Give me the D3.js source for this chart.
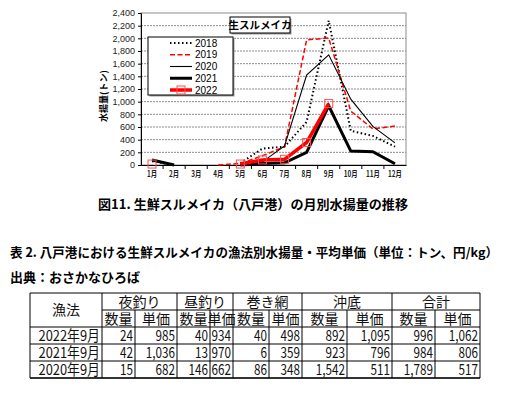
<!DOCTYPE HTML>
<html>
	<head>
        <meta charset='utf-8'>
        <title>生鮮スルメイカ 月別水揚量</title>
        <script src='https://d3js.org/d3.v7.min.js'></script>
        <style>
            body {
                margin: 0;
                background: #fff;
            }

            svg text {
                font-family: 'Liberation Sans', 'Noto Sans CJK JP', sans-serif;
            }

            .jp {
                font-family: 'Noto Sans CJK JP', sans-serif !important;
            }

            .grid line {
                stroke: #8c8c8c;
                stroke-width: 1px;
                stroke-dasharray: 2, 1;
            }

            .series {
                fill: none;
                stroke-linejoin: miter;
            }
        </style>
	</head>
	<body>
        <svg width='508' height='395' id='chart'></svg>
        <script>
            // monthly landings (t), null = no data
            const months = ['1月', '2月', '3月', '4月', '5月', '6月', '7月', '8月', '9月', '10月', '11月', '12月'];
            const y2018 = [60, 0, null, null, 30, 260, 290, 680, 2280, 540, 460, 290];
            const y2019 = [null, null, null, 0, 25, 145, 290, 1975, 2005, 850, 570, 615];
            const y2020 = [null, null, null, null, 0, 50, 300, 1420, 1740, 1040, 610, 350];
            const y2021 = [79, 0, null, null, 0, 25, 35, 200, 935, 220, 210, 20];
            const y2022 = [15, null, null, null, 15, 80, 90, 355, 970, null, null, null];
            const seriesNames = ['2018', '2019', '2020', '2021', '2022'];
            const yTicks = d3.range(0, 2401, 200);

            // table 2
            const methods = ['夜釣り', '昼釣り', '巻き網', '沖底', '合計'];
            const rowLabels = ['2022年9月', '2021年9月', '2020年9月'];
            const nightQty = [24, 42, 15];
            const nightPrice = [985, 1036, 682];
            const dayQty = [40, 13, 146];
            const dayPrice = [934, 970, 662];
            const seineQty = [40, 6, 86];
            const seinePrice = [498, 359, 348];
            const trawlQty = [892, 923, 1542];
            const trawlPrice = [1095, 796, 511];
            const totalQty = [996, 984, 1789];
            const totalPrice = [1062, 806, 517];

            var svg = d3.select('svg#chart');

            function boxWithShadow(g, x, y, w, h) {
                g.append('rect')
                    .attr('x', x + 1.5).attr('y', y + 1.5)
                    .attr('width', w).attr('height', h)
                    .attr('fill', '#999');
                g.append('rect')
                    .attr('x', x).attr('y', y)
                    .attr('width', w).attr('height', h)
                    .attr('fill', '#fff')
                    .attr('stroke', '#000');
            }

            function renderLineChart() {
                var plot = {left: 141, right: 406, top: 13, bottom: 165};

                var x = d3.scaleBand().domain(months).range([plot.left, plot.right]);
                var y = d3.scaleLinear().domain([0, 2400]).range([plot.bottom, plot.top]);

                var g = svg.append('g');

                g.append('g')
                    .attr('class', 'grid')
                    .selectAll('line')
                    .data(yTicks.filter(function(d) { return d > 0 && d < 2400; }))
                    .enter().append('line')
                    .attr('x1', plot.left)
                    .attr('x2', plot.right)
                    .attr('y1', function(d) { return y(d); })
                    .attr('y2', function(d) { return y(d); });

                g.append('rect')
                    .attr('x', plot.left)
                    .attr('y', plot.top)
                    .attr('width', plot.right - plot.left)
                    .attr('height', plot.bottom - plot.top)
                    .attr('fill', 'none')
                    .attr('stroke', '#8c8c8c');

                var yAxis = g.append('g')
                    .attr('transform', 'translate(' + plot.left + ',0)')
                    .call(d3.axisLeft(y).tickValues(yTicks).tickSize(3).tickPadding(3).tickFormat(d3.format(',')));
                yAxis.select('.domain').attr('stroke', '#000');
                yAxis.selectAll('text').attr('font-size', 9).attr('fill', '#222');

                var xAxis = g.append('g')
                    .attr('transform', 'translate(0,' + plot.bottom + ')')
                    .call(d3.axisBottom(x).tickSize(0).tickPadding(6));
                xAxis.select('.domain').attr('stroke', '#000');
                xAxis.selectAll('text')
                    .attr('class', 'jp')
                    .attr('font-size', 8.5)
                    .attr('font-weight', 'bold')
                    .attr('transform', 'scale(0.75,1)')
                    .attr('fill', '#222');

                // tick marks between categories
                g.append('g').selectAll('line')
                    .data(months.slice(1))
                    .enter().append('line')
                    .attr('x1', function(d) { return x(d); })
                    .attr('x2', function(d) { return x(d); })
                    .attr('y1', plot.bottom)
                    .attr('y2', plot.bottom + 4)
                    .attr('stroke', '#000');

                g.append('text')
                    .attr('class', 'jp')
                    .attr('transform', 'translate(107,96) rotate(-90)')
                    .attr('text-anchor', 'middle')
                    .attr('font-size', 9)
                    .attr('font-weight', 'bold')
                    .text('水揚量(トン)');

                var styles = [
                    {data: y2018, stroke: '#000', width: 2, dash: '1.5,2.5'},
                    {data: y2019, stroke: '#ff0000', width: 1.5, dash: '5,2.5'},
                    {data: y2020, stroke: '#000', width: 1.1, dash: null},
                    {data: y2021, stroke: '#000', width: 3, dash: null},
                    {data: y2022, stroke: '#ff0000', width: 3.5, dash: null}
                ];

                var line = d3.line()
                    .defined(function(d) { return d != null; })
                    .x(function(d, i) { return x(months[i]) + x.bandwidth() / 2; })
                    .y(function(d) { return y(d); });

                styles.forEach(function(s) {
                    g.append('path')
                        .datum(s.data)
                        .attr('class', 'series')
                        .attr('stroke', s.stroke)
                        .attr('stroke-width', s.width)
                        .attr('stroke-dasharray', s.dash)
                        .attr('d', line);
                });

                // hollow square markers for 2022
                g.append('g').selectAll('rect')
                    .data(y2022.map(function(v, i) { return {m: months[i], v: v}; }).filter(function(d) { return d.v != null; }))
                    .enter().append('rect')
                    .attr('x', function(d) { return x(d.m) + x.bandwidth() / 2 - 4; })
                    .attr('y', function(d) { return y(d.v) - 4; })
                    .attr('width', 8)
                    .attr('height', 8)
                    .attr('fill', 'none')
                    .attr('stroke', '#ff5050')
                    .attr('stroke-width', 1);

                // title box
                boxWithShadow(g, 230, 17, 60, 16);
                g.append('text')
                    .attr('class', 'jp')
                    .attr('x', 260).attr('y', 29)
                    .attr('text-anchor', 'middle')
                    .attr('font-size', 10.5)
                    .attr('font-weight', 'bold')
                    .text('生スルメイカ');

                // legend
                var legend = g.append('g');
                boxWithShadow(legend, 148, 37, 85, 58);

                var ly = d3.scalePoint().domain(seriesNames).range([43, 90]);
                seriesNames.forEach(function(name, i) {
                    var s = styles[i];
                    legend.append('line')
                        .attr('x1', 170).attr('x2', 192)
                        .attr('y1', ly(name)).attr('y2', ly(name))
                        .attr('stroke', s.stroke)
                        .attr('stroke-width', s.width)
                        .attr('stroke-dasharray', s.dash);
                    legend.append('text')
                        .attr('x', 195).attr('y', ly(name) + 3.5)
                        .attr('font-size', 10)
                        .text(name);
                });
                legend.append('rect')
                    .attr('x', 177).attr('y', ly('2022') - 4)
                    .attr('width', 8).attr('height', 8)
                    .attr('fill', 'none')
                    .attr('stroke', '#ff5050');
            }

            function renderCaptions() {
                svg.append('text')
                    .attr('class', 'jp')
                    .attr('x', 98).attr('y', 209)
                    .attr('font-size', 13)
                    .attr('font-weight', 'bold')
                    .attr('textLength', 310)
                    .attr('lengthAdjust', 'spacingAndGlyphs')
                    .text('図11. 生鮮スルメイカ（八戸港）の月別水揚量の推移');

                svg.append('text')
                    .attr('class', 'jp')
                    .attr('x', 10).attr('y', 257)
                    .attr('font-size', 12.6)
                    .attr('font-weight', 'bold')
                    .attr('textLength', 488)
                    .attr('lengthAdjust', 'spacingAndGlyphs')
                    .text('表 2. 八戸港における生鮮スルメイカの漁法別水揚量・平均単価（単位：トン、円/kg）');

                svg.append('text')
                    .attr('class', 'jp')
                    .attr('x', 10).attr('y', 282)
                    .attr('font-size', 13)
                    .attr('font-weight', 'bold')
                    .text('出典：おさかなひろば');
            }

            function renderTable() {
                var cols = [30, 102, 177, 233, 302, 392, 480];
                var splits = [135, 210, 269, 347, 435];
                var rows = [293, 310, 327, 344, 361, 378];
                var fmt = d3.format(',');
                var values = [
                    [nightQty, nightPrice],
                    [dayQty, dayPrice],
                    [seineQty, seinePrice],
                    [trawlQty, trawlPrice],
                    [totalQty, totalPrice]
                ];

                var t = svg.append('g').attr('class', 'table');

                // horizontal rules
                [293, 327, 344, 361].forEach(function(yy) {
                    t.append('line').attr('x1', cols[0]).attr('x2', cols[6]).attr('y1', yy).attr('y2', yy).attr('stroke', '#000');
                });
                t.append('line').attr('x1', cols[0]).attr('x2', cols[6]).attr('y1', 378).attr('y2', 378)
                    .attr('stroke', '#333').attr('stroke-width', 2);
                t.append('line').attr('x1', cols[1]).attr('x2', cols[6]).attr('y1', 310).attr('y2', 310).attr('stroke', '#000');

                // vertical rules
                cols.forEach(function(xx) {
                    t.append('line').attr('x1', xx).attr('x2', xx).attr('y1', 293).attr('y2', 378).attr('stroke', '#000');
                });
                splits.forEach(function(xx) {
                    t.append('line').attr('x1', xx).attr('x2', xx).attr('y1', 310).attr('y2', 378).attr('stroke', '#000');
                });

                // narrow, tall glyphs like the original's gothic font
                function cellText(x, y, anchor, str, size, sx) {
                    t.append('text')
                        .attr('class', 'jp')
                        .attr('transform', 'translate(' + x + ',' + y + ') scale(' + sx + ',1)')
                        .attr('text-anchor', anchor)
                        .attr('font-size', size)
                        .attr('fill', '#111')
                        .text(str);
                }

                cellText((cols[0] + cols[1]) / 2, 315, 'middle', '漁法', 14, 1);

                methods.forEach(function(m, i) {
                    cellText((cols[i + 1] + cols[i + 2]) / 2, 307, 'middle', m, 14, 1);
                    cellText((cols[i + 1] + splits[i]) / 2, 324, 'middle', '数量', 14, 1);
                    cellText((splits[i] + cols[i + 2]) / 2, 324, 'middle', '単価', 14, 1);
                });

                rowLabels.forEach(function(label, r) {
                    var base = rows[r + 2] + 14;
                    cellText(cols[1] - 2, base, 'end', label, 15, 0.86);
                    values.forEach(function(pair, i) {
                        cellText(splits[i] - 2, base, 'end', fmt(pair[0][r]), 15, 0.78);
                        cellText(cols[i + 2] - 2, base, 'end', fmt(pair[1][r]), 15, 0.78);
                    });
                });
            }

            renderLineChart();
            renderCaptions();
            renderTable();
        </script>
	</body>
</html>
